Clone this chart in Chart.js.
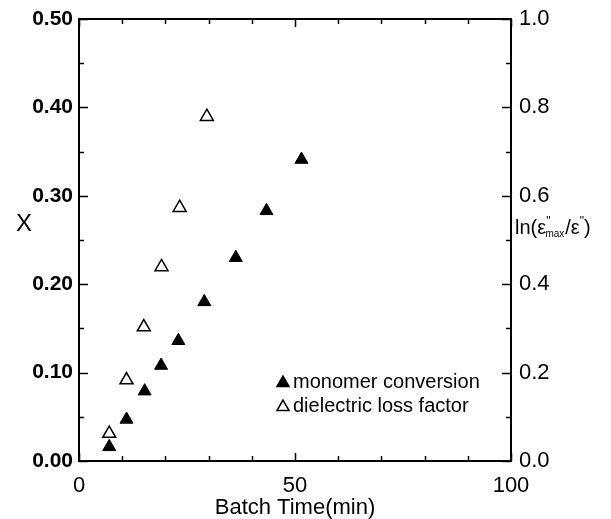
<!DOCTYPE html>
<html>
<head>
<meta charset="utf-8">
<script src="https://cdn.jsdelivr.net/npm/chart.js@4.4.1/dist/chart.umd.min.js"></script>
<style>
  html, body { margin: 0; padding: 0; background: #ffffff; }
  #wrap { width: 611px; height: 519px; position: relative; }
</style>
</head>
<body>
<div id="wrap"><canvas id="chart"></canvas></div>
<script>
// data
const batchTimeConv = [7, 11, 15.2, 19, 23, 29, 36.3, 43.4, 51.5];
const monomerConversion = [0.016, 0.047, 0.079, 0.108, 0.136, 0.180, 0.230, 0.283, 0.341];
const batchTimeLoss = [7, 11, 15, 19.1, 23.3, 29.6];
const lossFactorLn = [0.062, 0.183, 0.303, 0.439, 0.573, 0.779];
const seriesNames = ['monomer conversion', 'dielectric loss factor'];
const xTickLabels = [0, 50, 100];

const FONT = '"Liberation Sans", Arial, sans-serif';

function toPoints(xs, ys) {
    return xs.map((x, i) => ({ x: x, y: ys[i] }));
}

// frame, inward ticks, axis titles and legend
const framePlugin = {
    id: 'framePlugin',
    afterDraw(chart) {
        const ctx = chart.ctx;
        const a = chart.chartArea;
        const sx = chart.scales.x, sy = chart.scales.y, sy2 = chart.scales.y2;
        ctx.save();
        ctx.strokeStyle = '#000';
        ctx.lineWidth = 2;
        ctx.strokeRect(a.left, a.top, a.right - a.left, a.bottom - a.top);

        ctx.lineWidth = 1.5;
        ctx.beginPath();
        // x ticks bottom and top
        for (let v = 0; v <= 100; v += 10) {
            const px = Math.round(sx.getPixelForValue(v)) + 0.5;
            const len = v % 50 === 0 ? 8 : 5;
            ctx.moveTo(px, a.bottom); ctx.lineTo(px, a.bottom - len);
            ctx.moveTo(px, a.top); ctx.lineTo(px, a.top + len);
        }
        // left ticks
        for (let i = 0; i <= 10; i++) {
            const py = Math.round(sy.getPixelForValue(i * 0.05)) + 0.5;
            const len = i % 2 === 0 ? 9 : 5;
            ctx.moveTo(a.left, py); ctx.lineTo(a.left + len, py);
        }
        // right ticks
        for (let i = 0; i <= 10; i++) {
            const py = Math.round(sy2.getPixelForValue(i * 0.1)) + 0.5;
            const len = i % 2 === 0 ? 9 : 5;
            ctx.moveTo(a.right, py); ctx.lineTo(a.right - len, py);
        }
        ctx.stroke();

        ctx.fillStyle = '#000';
        ctx.textAlign = 'center';
        ctx.textBaseline = 'middle';
        // x axis title
        ctx.font = '22px ' + FONT;
        ctx.fillText('Batch Time(min)', (a.left + a.right) / 2, 508);
        // left axis title
        ctx.font = '24px ' + FONT;
        ctx.fillText('X', 24, 224);

        // right axis title: ln(ε"max/ε")
        ctx.textAlign = 'left';
        ctx.textBaseline = 'alphabetic';
        let x = 515;
        const base = 234;
        const part = (txt, size, dy) => {
            ctx.font = size + 'px ' + FONT;
            ctx.fillText(txt, x, base + dy);
            x += ctx.measureText(txt).width;
        };
        part('ln(\u03b5', 20, 0);
        part('"', 12, -9);
        x -= 5;
        part('max', 10, 3);
        x += 1;
        part('/\u03b5', 20, 0);
        part('"', 12, -9);
        part(')', 20, 0);

        // legend inside the plot
        const ds = chart.data.datasets;
        ctx.font = '20px ' + FONT;
        ctx.textBaseline = 'middle';
        const rows = [382, 406];
        ds.forEach((d, i) => {
            const cx = 283, cy = rows[i] + 1, r = 7;
            ctx.beginPath();
            ctx.moveTo(cx, cy - r);
            ctx.lineTo(cx + r * 0.866, cy + r / 2);
            ctx.lineTo(cx - r * 0.866, cy + r / 2);
            ctx.closePath();
            ctx.fillStyle = d.backgroundColor;
            ctx.fill();
            ctx.lineWidth = 1.5;
            ctx.strokeStyle = '#000';
            ctx.stroke();
            ctx.fillStyle = '#000';
            ctx.fillText(d.label, 293, rows[i]);
        });
        ctx.restore();
    }
};

new Chart(document.getElementById('chart'), {
    type: 'scatter',
    data: {
        datasets: [{
            label: seriesNames[0],
            data: toPoints(batchTimeConv, monomerConversion),
            yAxisID: 'y',
            pointStyle: 'triangle',
            pointRadius: 7.5,
            backgroundColor: '#000000',
            borderColor: '#000000',
            borderWidth: 1
        }, {
            label: seriesNames[1],
            data: toPoints(batchTimeLoss, lossFactorLn),
            yAxisID: 'y2',
            pointStyle: 'triangle',
            pointRadius: 7.5,
            backgroundColor: '#ffffff',
            borderColor: '#000000',
            borderWidth: 1.5
        }]
    },
    options: {
        responsive: true,
        maintainAspectRatio: false,
        animation: false,
        layout: { padding: { top: 19, left: 0, right: 0, bottom: 0 } },
        plugins: {
            legend: { display: false },
            tooltip: { enabled: false }
        },
        scales: {
            x: {
                type: 'linear',
                min: 0, max: 100,
                afterBuildTicks: (s) => { s.ticks = xTickLabels.map(v => ({ value: v })); },
                grid: { display: false },
                border: { display: false },
                ticks: { color: '#000', font: { family: FONT, size: 22 }, padding: 4, maxRotation: 0 },
                afterFit: (s) => { s.height = 58; }
            },
            y: {
                position: 'left',
                min: 0, max: 0.5,
                ticks: { stepSize: 0.1, color: '#000', font: { family: FONT, size: 21, weight: 'bold' }, padding: -2,
                         callback: (v) => v.toFixed(2) },
                grid: { display: false },
                border: { display: false },
                afterFit: (s) => { s.width = 79; }
            },
            y2: {
                position: 'right',
                min: 0, max: 1.0,
                ticks: { stepSize: 0.2, color: '#000', font: { family: FONT, size: 22 }, padding: 0,
                         callback: (v) => v.toFixed(1) },
                grid: { display: false },
                border: { display: false },
                afterFit: (s) => { s.width = 100; }
            }
        }
    },
    plugins: [framePlugin]
});
</script>
</body>
</html>
